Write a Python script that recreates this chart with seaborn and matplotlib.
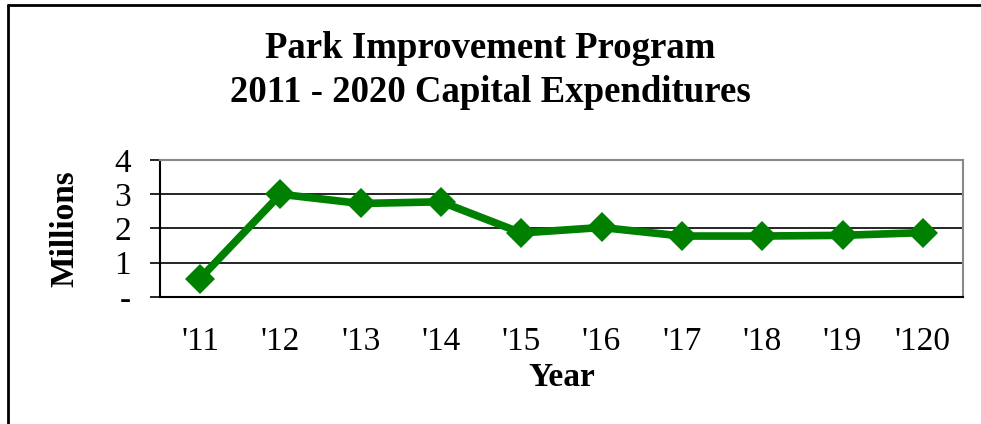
import matplotlib
matplotlib.use("Agg")
import matplotlib.pyplot as plt
import seaborn as sns
import pandas as pd
from matplotlib.lines import Line2D

years = ["'11", "'12", "'13", "'14", "'15", "'16", "'17", "'18", "'19", "'120"]
expenditures = [0.54, 3.0, 2.73, 2.78, 1.87, 2.03, 1.78, 1.78, 1.80, 1.88]
y_ticks = [0, 1, 2, 3, 4]
y_tick_labels = ["-", "1", "2", "3", "4"]

sns.set_theme(style="white")
plt.rcParams["font.family"] = ["Liberation Serif", "DejaVu Serif"]
plt.rcParams["text.color"] = "black"
plt.rcParams["axes.labelcolor"] = "black"
plt.rcParams["xtick.color"] = "black"
plt.rcParams["ytick.color"] = "black"

df = pd.DataFrame({"pos": range(len(years)), "value": expenditures})

fig = plt.figure(figsize=(9.81, 4.24), dpi=100)
ax = fig.add_axes([160 / 981, 1 - 297 / 424, (963 - 160) / 981, (297 - 160) / 424])

sns.lineplot(data=df, x="pos", y="value", ax=ax, color="#008000", linewidth=5.5,
             marker="D", markersize=15, markeredgewidth=0, legend=False)

ax.set_xlim(-0.5, len(years) - 0.5)
ax.set_ylim(0, 4)
ax.set_yticks(y_ticks)
ax.set_yticklabels(y_tick_labels, fontsize=24)
ax.set_xticks(range(len(years)))
ax.set_xticklabels(years, fontsize=24)
ax.set_xticks([i - 0.5 for i in range(len(years) + 1)], minor=True)
ax.tick_params(axis="x", which="major", length=0, pad=21)
ax.tick_params(axis="x", which="minor", length=7, width=1.2, color="black", direction="out")
ax.tick_params(axis="y", which="major", length=7, width=1.2, color="black", direction="out", pad=14, left=True)

ax.yaxis.grid(True, color="black", linewidth=1.2)
ax.xaxis.grid(False)
ax.spines["left"].set_color("black")
ax.spines["bottom"].set_color("black")
ax.spines["top"].set_color("#888888")
ax.spines["right"].set_color("#888888")
for s in ax.spines.values():
    s.set_linewidth(1.5)

ax.set_xlabel("Year", fontsize=24, fontweight="bold", labelpad=4)
ax.set_ylabel("Millions", fontsize=24, fontweight="bold", labelpad=24)

fig.text(0.5, 1 - 48 / 424, "Park Improvement Program", ha="center", va="center",
         fontsize=26.5, fontweight="bold")
fig.text(0.5, 1 - 93 / 424, "2011 - 2020 Capital Expenditures", ha="center", va="center",
         fontsize=26.5, fontweight="bold")

# outer frame (left and top edges)
fig.add_artist(Line2D([8 / 981, 8 / 981], [0, 1 - 5 / 424], transform=fig.transFigure,
                      color="black", linewidth=2))
fig.add_artist(Line2D([8 / 981, 1], [1 - 5 / 424, 1 - 5 / 424], transform=fig.transFigure,
                      color="black", linewidth=2))

fig.savefig("out.png", dpi=100)
